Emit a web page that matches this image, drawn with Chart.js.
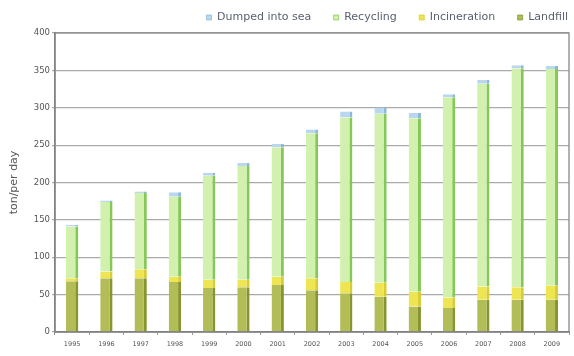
<!DOCTYPE html>
<html>
<head>
<meta charset="utf-8">
<title>Waste disposal, ton per day</title>
<script src="https://cdn.jsdelivr.net/npm/chart.js@4/dist/chart.umd.min.js"></script>
<style>
  html, body { margin: 0; padding: 0; background: #fff; }
  #wrap { width: 574px; height: 356px; }
</style>
</head>
<body>
<div id="wrap"><canvas id="chart" width="574" height="356"></canvas></div>
<script>
// ---------- Data ----------
const years = ["1995", "1996", "1997", "1998", "1999", "2000", "2001", "2002",
  "2003", "2004", "2005", "2006", "2007", "2008", "2009"];
const landfill     = [68, 72, 72, 67, 59, 60, 63, 56, 52, 47, 34, 32, 43, 43, 43];
const incineration = [4, 9, 12, 7, 11, 10, 11, 16, 15, 19, 20, 14, 18, 17, 19];
const recycling    = [69, 93, 102, 107, 139, 152, 173, 194, 220, 226, 232, 268, 271, 293, 290];
const dumpedSea    = [2, 2, 2, 6, 4, 4, 5, 5, 8, 8, 7, 4, 5, 4, 4];
const yTicks = [0, 50, 100, 150, 200, 250, 300, 350, 400];

// ---------- Helpers ----------
function series(label, data, fill, edge) {
  return {
    label, data,
    backgroundColor: fill,
    borderColor: edge,
    borderWidth: { top: 0, left: 0, bottom: 0, right: 3 },
    borderSkipped: false,
    categoryPercentage: 1,
    barPercentage: 0.36
  };
}

const family = "'DejaVu Sans', Verdana, sans-serif";

new Chart(document.getElementById('chart'), {
  type: 'bar',
  data: {
    labels: years,
    datasets: [
      series('Landfill', landfill, '#b2bd58', '#87952f'),
      series('Incineration', incineration, '#eee553', '#d8cb33'),
      series('Recycling', recycling, '#d2f0ae', '#84c957'),
      series('Dumped into sea', dumpedSea, '#b9d8ef', '#8fb7d8')
    ]
  },
  options: {
    responsive: false,
    animation: false,
    layout: { padding: { top: 0, right: 5, left: 0, bottom: 0 } },
    plugins: {
      tooltip: { enabled: false },
      legend: {
        position: 'top',
        align: 'end',
        reverse: true,
        labels: {
          boxWidth: 5, boxHeight: 5,
          padding: 12,
          color: '#5a6070',
          font: { family, size: 11 },
          // a little extra room after every entry but the last one
          generateLabels(chart) {
            const items = Chart.defaults.plugins.legend.labels.generateLabels(chart);
            items.forEach(it => { if (it.datasetIndex !== 0) it.text += '   '; });
            return items;
          }
        }
      }
    },
    scales: {
      x: {
        stacked: true,
        afterFit: s => { s.height = 24; },
        border: { color: '#777', width: 1.5 },
        grid: { display: true, drawOnChartArea: false, tickLength: 3, color: '#999' },
        ticks: { color: '#555', font: { family, size: 6.5 }, maxRotation: 0, padding: 5 }
      },
      y: {
        stacked: true,
        min: 0, max: 400,
        afterBuildTicks: s => { s.ticks = yTicks.map(v => ({ value: v })); },
        afterFit: s => { s.width = 55; },
        border: { color: '#777', width: 1.5 },
        grid: { color: '#aaa', lineWidth: 1.2, tickLength: 3 },
        ticks: { color: '#555', font: { family, size: 8.5 }, padding: 2 },
        title: {
          display: true, text: 'ton/per day', color: '#555',
          font: { family, size: 11 }, padding: { top: 8, bottom: 0 }
        }
      }
    }
  },
  plugins: [{
    id: 'frame',
    // nudge the legend row to the right edge of the canvas
    afterLayout(chart) {
      chart.legend.left += 11;
      chart.legend.right += 11;
    },
    // frame around the plot area
    afterDraw(chart) {
      const { ctx, chartArea: a } = chart;
      ctx.save();
      ctx.strokeStyle = '#888';
      ctx.lineWidth = 1.3;
      ctx.strokeRect(a.left, a.top, a.right - a.left, a.bottom - a.top);
      ctx.restore();
    }
  }]
});
</script>
</body>
</html>
